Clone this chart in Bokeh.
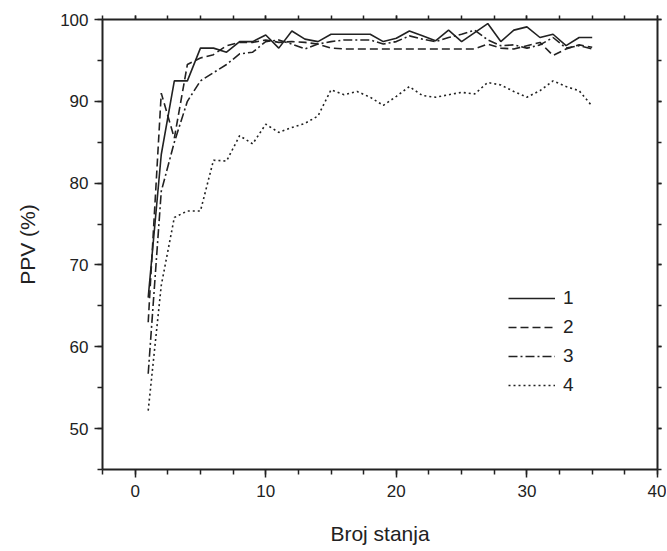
from bokeh.plotting import figure
from bokeh.models import LinearAxis, Range1d, Legend, LegendItem, SingleIntervalTicker, CustomJSTickFormatter
from bokeh.embed import file_html
from bokeh.resources import INLINE

states = list(range(1, 36))
ppv_1 = [66.0, 83.5, 92.5, 92.5, 96.5, 96.5, 96.0, 97.3, 97.3, 98.1,
         96.5, 98.6, 97.6, 97.3, 98.2, 98.2, 98.2, 98.2, 97.3, 97.7,
         98.6, 98.0, 97.4, 98.7, 97.3, 98.4, 99.5, 97.3, 98.7, 99.1,
         97.8, 98.2, 96.8, 97.8, 97.8]
ppv_2 = [63.0, 91.0, 85.5, 94.5, 95.3, 95.7, 96.8, 97.2, 97.2, 97.5,
         97.2, 97.3, 97.2, 97.0, 96.5, 96.4, 96.4, 96.4, 96.4, 96.4,
         96.4, 96.4, 96.4, 96.4, 96.4, 96.4, 97.0, 96.5, 96.4, 96.8,
         97.2, 95.6, 96.4, 96.9, 96.6]
ppv_3 = [56.7, 79.0, 85.0, 90.0, 92.5, 93.5, 94.5, 95.8, 96.0, 97.3,
         97.5, 97.0, 96.4, 97.0, 97.3, 97.5, 97.5, 97.5, 97.0, 97.3,
         98.0, 97.6, 97.3, 97.8, 98.2, 98.7, 97.5, 96.8, 96.9, 96.5,
         96.9, 97.8, 96.5, 96.8, 96.4]
ppv_4 = [52.2, 67.5, 75.8, 76.6, 76.6, 82.8, 82.7, 85.8, 84.8, 87.2,
         86.2, 86.8, 87.3, 88.2, 91.4, 90.8, 91.2, 90.5, 89.5, 90.6,
         91.8, 90.7, 90.5, 90.8, 91.1, 90.9, 92.3, 92.0, 91.2, 90.5,
         91.3, 92.5, 91.8, 91.3, 89.4]
series_labels = ["1", "2", "3", "4"]

INK = "#222222"
FONT = "Liberation Sans"

p = figure(width=666, height=550, x_range=Range1d(-2.5, 40), y_range=Range1d(45, 100),
           output_backend="svg", toolbar_location=None,
           min_border_left=102, min_border_right=9, min_border_top=19, min_border_bottom=81)
p.outline_line_color = None
p.xgrid.visible = False
p.ygrid.visible = False
p.background_fill_color = "white"
p.border_fill_color = "white"

xt = SingleIntervalTicker(interval=10, num_minor_ticks=4)
yt = SingleIntervalTicker(interval=10, num_minor_ticks=2)

def style(ax, labels=True, long=True):
    ax.axis_line_color = INK
    ax.axis_line_width = 2
    ax.major_tick_line_color = INK
    ax.minor_tick_line_color = INK
    ax.major_tick_line_width = 1.5
    ax.minor_tick_line_width = 1.5
    ax.major_tick_in = 0
    ax.minor_tick_in = 0
    if long:
        ax.major_tick_out = 8
        ax.minor_tick_out = 5
    else:
        ax.major_tick_out = 4
        ax.minor_tick_out = 4
    if labels:
        ax.major_label_text_font = FONT
        ax.major_label_text_font_size = "17px"
        ax.major_label_text_color = INK
        ax.major_label_standoff = 6
        ax.axis_label_text_font = FONT
        ax.axis_label_text_font_size = "21px"
        ax.axis_label_text_font_style = "normal"
        ax.axis_label_text_color = INK
    else:
        ax.formatter = CustomJSTickFormatter(code="return ''")
        ax.major_label_standoff = 0

p.xaxis.ticker = xt
p.yaxis.ticker = yt
p.xaxis.axis_label = "Broj stanja"
p.yaxis.axis_label = "PPV (%)"
style(p.xaxis[0])
style(p.yaxis[0])
p.xaxis.major_label_standoff = 7
p.xaxis.axis_label_standoff = 22
p.yaxis.axis_label_standoff = 18

top = LinearAxis(ticker=SingleIntervalTicker(interval=10, num_minor_ticks=4))
right = LinearAxis(ticker=SingleIntervalTicker(interval=10, num_minor_ticks=2))
style(top, labels=False, long=False)
style(right, labels=False, long=False)
p.add_layout(top, "above")
p.add_layout(right, "right")

r1 = p.line(states, ppv_1, line_color=INK, line_width=1.6)
r2 = p.line(states, ppv_2, line_color=INK, line_width=1.6, line_dash="8 4")
r3 = p.line(states, ppv_3, line_color=INK, line_width=1.6, line_dash="9 3 2 3")
r4 = p.line(states, ppv_4, line_color=INK, line_width=1.6, line_dash="2 3")

legend = Legend(items=[LegendItem(label=series_labels[i], renderers=[r])
                       for i, r in enumerate([r1, r2, r3, r4])],
                location=(406, 70), border_line_color=None, background_fill_alpha=0,
                glyph_width=47, glyph_height=28, label_height=28, label_standoff=8,
                label_text_font=FONT, label_text_font_size="19px", label_text_color=INK,
                spacing=1, padding=0, margin=0)
p.add_layout(legend)

open("out.html", "w").write(file_html(p, INLINE))
